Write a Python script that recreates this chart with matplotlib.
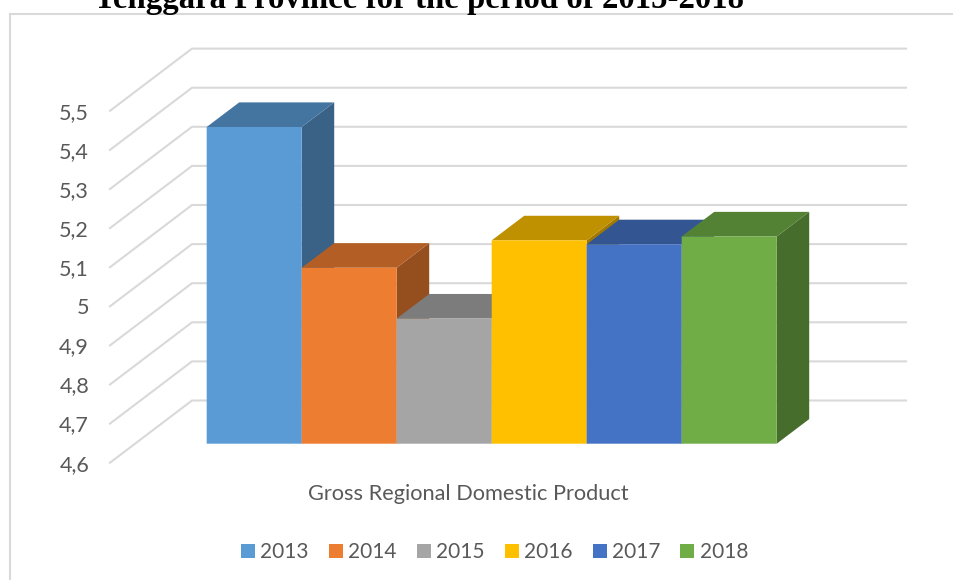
import matplotlib
matplotlib.use("Agg")
import matplotlib.pyplot as plt
from matplotlib.patches import Patch, Polygon
import matplotlib.colors as mcolors
import numpy as np

years = ["2013", "2014", "2015", "2016", "2017", "2018"]
grdp = [5.41, 5.05, 4.92, 5.12, 5.11, 5.13]
colors = ["#5B9BD5", "#ED7D31", "#A5A5A5", "#FFC000", "#4472C4", "#70AD47"]
ticks = [4.6, 4.7, 4.8, 4.9, 5.0, 5.1, 5.2, 5.3, 5.4, 5.5]
tick_labels = ["4,6", "4,7", "4,8", "4,9", "5", "5,1", "5,2", "5,3", "5,4", "5,5"]

W, H = 954, 580
BAR_PX = 95.0      # width of one bar
UNIT_PX = 39.1     # height of 0.1 on the value axis
X0, Y0 = 206.7, 443.7   # lower left corner of the first bar

# depth of the bars and of the floor, in axis units
bar_dx, bar_dy = 32.5 / BAR_PX, 24.6 / UNIT_PX * 0.1
wall_dy = 43.2 / UNIT_PX * 0.1
front_dy = -19.0 / UNIT_PX * 0.1
front_x, wall_x, right_x = (110 - X0) / BAR_PX, (192 - X0) / BAR_PX, (906 - X0) / BAR_PX
label_x = (89 - X0) / BAR_PX

plt.rcParams["font.family"] = ["Lato", "DejaVu Sans"]
fig = plt.figure(figsize=(W / 100, H / 100), dpi=100)
ax = fig.add_axes([10 / W, 0, (W - 10) / W, (H - 14) / H])
ax.set_xlim((10 - X0) / BAR_PX, (W - X0) / BAR_PX)
ax.set_ylim(4.6 - (H - Y0) / UNIT_PX * 0.1, 4.6 + (Y0 - 14) / UNIT_PX * 0.1)

# chart frame, only left and top show
for side in ["right", "bottom"]:
    ax.spines[side].set_visible(False)
for side in ["left", "top"]:
    ax.spines[side].set_color("#D9D9D9")
    ax.spines[side].set_linewidth(1.5)
ax.set_xticks([])
ax.set_yticks([])

# floor lines running back, then along the wall
for t, lab in zip(ticks, tick_labels):
    ax.plot([front_x, wall_x, right_x], [t + front_dy, t + wall_dy, t + wall_dy],
            color="#D9D9D9", lw=1.5, solid_joinstyle="miter", zorder=1)
    ax.text(label_x, t + front_dy - 0.005, lab, ha="right", va="center",
            fontsize=15.5, color="#595959")

# left to right so each bar sits over the side of the previous one
for i, (v, c) in enumerate(zip(grdp, colors)):
    rgb = np.array(mcolors.to_rgb(c))
    z = 2 + i
    ax.bar(i, v - 4.6, width=1, bottom=4.6, align="edge", color=c, zorder=z + 0.2, snap=False)
    ax.add_patch(Polygon([(i, v), (i + bar_dx, v + bar_dy), (i + 1 + bar_dx, v + bar_dy), (i + 1, v)],
                         closed=True, facecolor=rgb * 0.75, edgecolor="none", zorder=z + 0.1))
    ax.add_patch(Polygon([(i + 1, 4.6), (i + 1 + bar_dx, 4.6 + bar_dy), (i + 1 + bar_dx, v + bar_dy), (i + 1, v)],
                         closed=True, facecolor=rgb * 0.63, edgecolor="none", zorder=z))

fig.text(468 / W, 1 - 494.5 / H, "Gross Regional Domestic Product", ha="center", va="center",
         fontsize=15.7, color="#595959")

handles = [Patch(facecolor=c, label=y) for y, c in zip(years, colors)]
fig.legend(handles=handles, ncol=6, loc="center", bbox_to_anchor=(494.5 / W, 1 - 552.5 / H),
           frameon=False, fontsize=15, labelcolor="#595959", handlelength=0.67, handleheight=0.67,
           handletextpad=0.25, columnspacing=0.97, borderpad=0, borderaxespad=0)

fig.text(419.5 / W, 1 - 8 / H, "Tenggara Province for the period of 2015-2018", ha="center",
         va="baseline", fontsize=23.6, fontweight="bold", family="Liberation Serif", color="black")

fig.savefig("out.png", dpi=100)
